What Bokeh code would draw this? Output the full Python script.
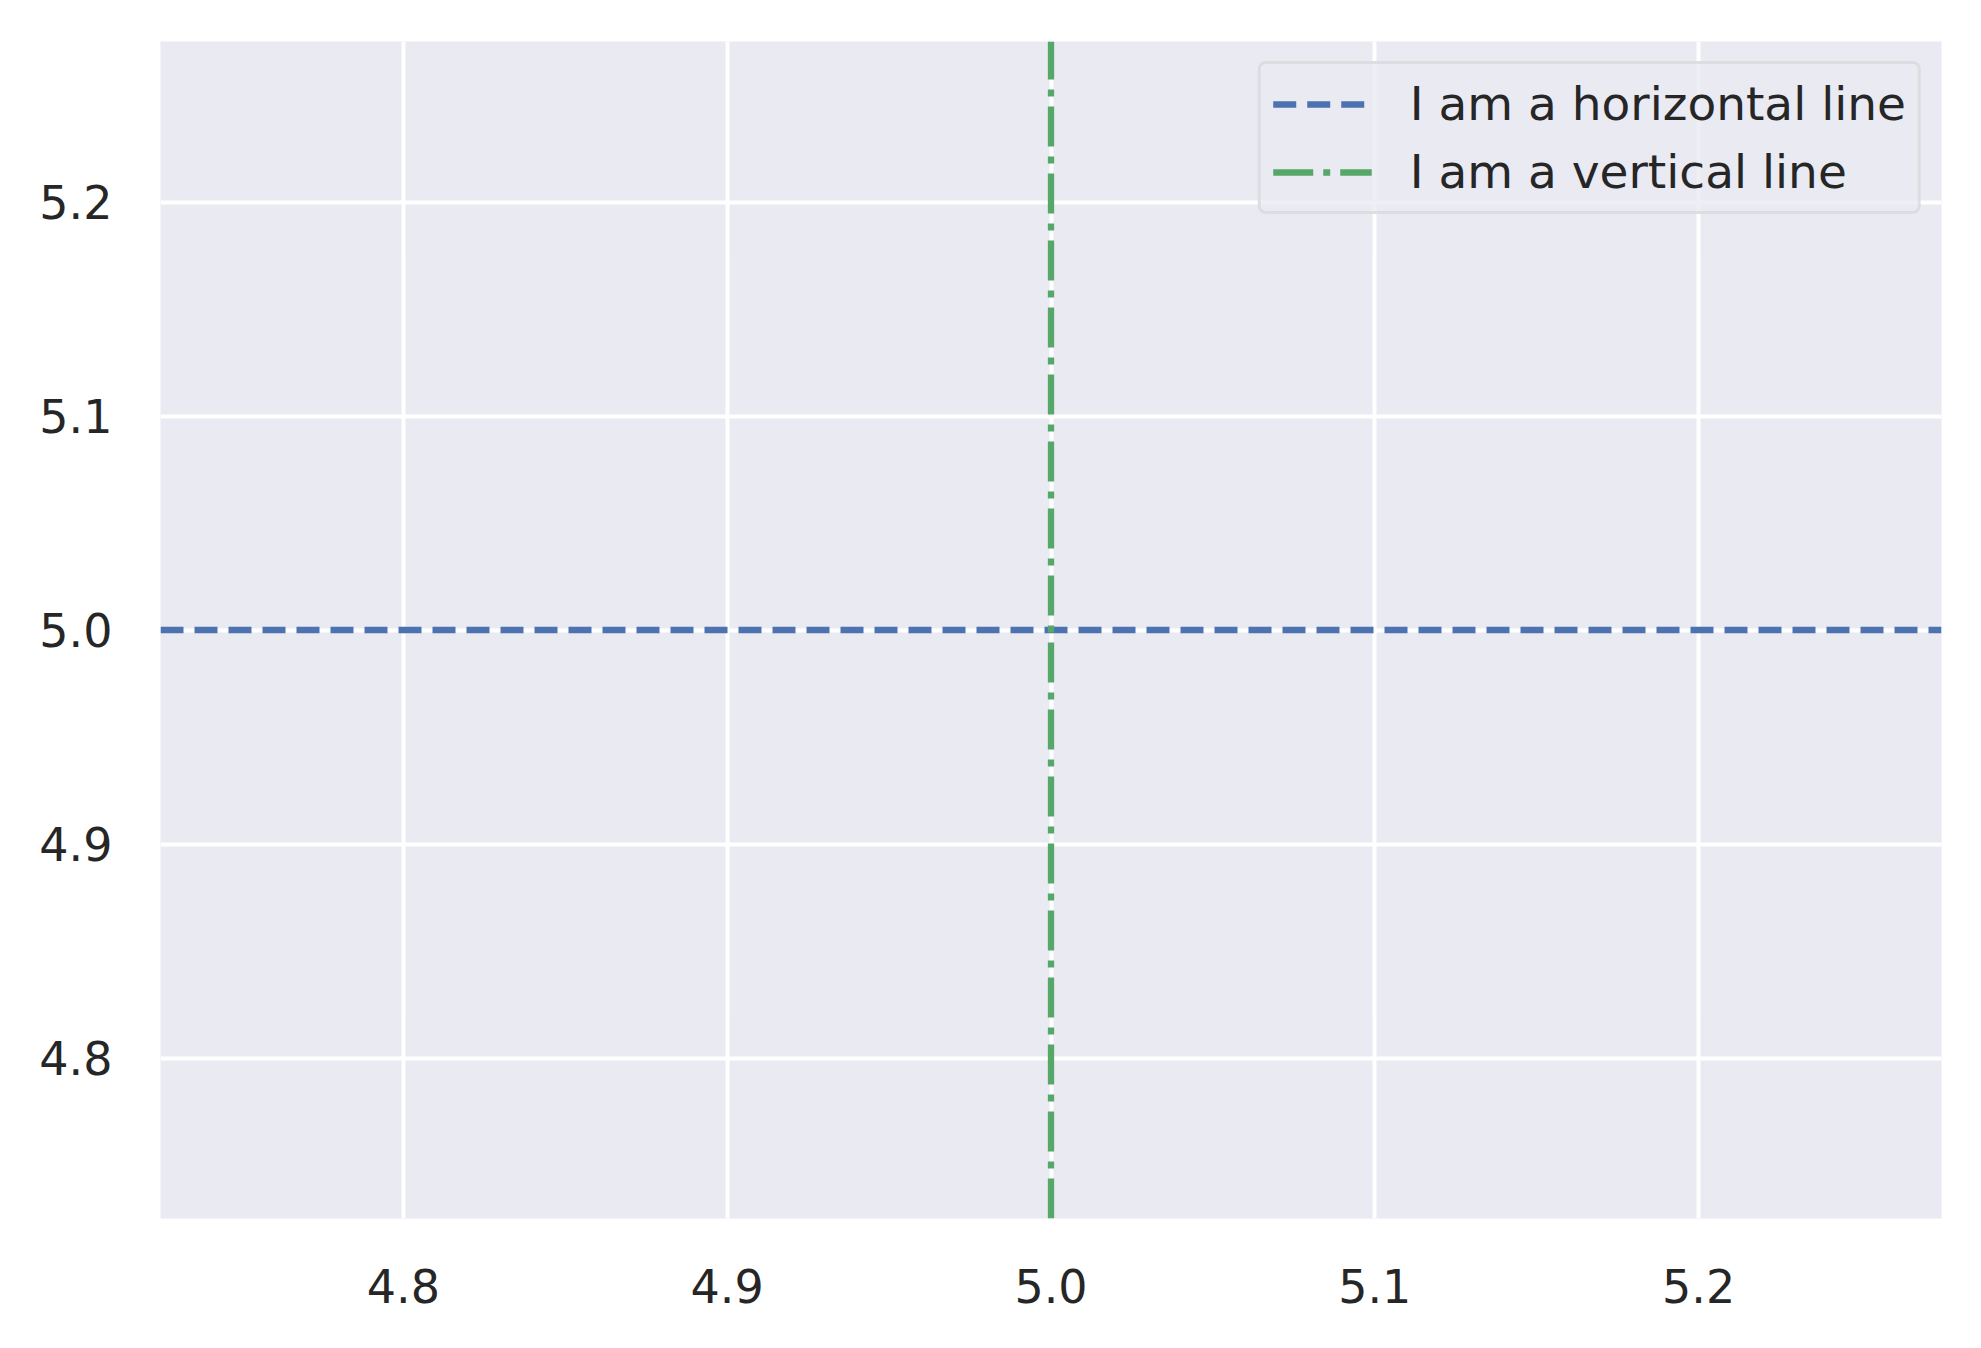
from bokeh.plotting import figure
from bokeh.models import FixedTicker, Range1d, Legend, LegendItem, NumeralTickFormatter
from bokeh.embed import file_html
from bokeh.resources import INLINE

# data
hline_y = 5.0
vline_x = 5.0
axis_min = 4.725
axis_max = 5.275
x_ticks = [4.8, 4.9, 5.0, 5.1, 5.2]
y_ticks = [4.8, 4.9, 5.0, 5.1, 5.2]
labels = ["I am a horizontal line", "I am a vertical line"]

FONT = "DejaVu Sans"
TXT = "#262626"

p = figure(
    frame_width=1781, frame_height=1177,
    x_range=Range1d(axis_min, axis_max), y_range=Range1d(axis_min, axis_max),
    output_backend="svg", toolbar_location=None,
    min_border_left=160, min_border_top=41, min_border_right=24, min_border_bottom=100,
    background_fill_color="#EAEAF2", border_fill_color="white",
)
p.outline_line_color = None

r_h = p.line(x=[axis_min, axis_max], y=[hline_y, hline_y], line_color="#4C72B0",
             line_width=6.3, line_dash="23 11")
r_v = p.line(x=[vline_x, vline_x], y=[axis_min, axis_max], line_color="#55A868",
             line_width=6.3, line_dash="40 10 7 10")

for ax, ticks in ((p.xaxis[0], x_ticks), (p.yaxis[0], y_ticks)):
    ax.ticker = FixedTicker(ticks=ticks)
    ax.formatter = NumeralTickFormatter(format="0.0")
    ax.axis_line_color = None
    ax.major_tick_line_color = None
    ax.minor_tick_line_color = None
    ax.major_tick_out = 0
    ax.major_tick_in = 0
    ax.major_label_text_font = FONT
    ax.major_label_text_font_size = "46px"
    ax.major_label_text_color = TXT
p.xaxis[0].major_label_standoff = 50
p.yaxis[0].major_label_standoff = 48

p.xgrid.grid_line_color = "white"
p.ygrid.grid_line_color = "white"
p.xgrid.grid_line_width = 4
p.ygrid.grid_line_width = 4

legend = Legend(
    items=[LegendItem(label=labels[0], renderers=[r_h]),
           LegendItem(label=labels[1], renderers=[r_v])],
    location="top_right",
    margin=20,
    padding=12,
    spacing=13,
    glyph_width=99,
    glyph_height=46,
    label_height=46,
    label_standoff=38,
    label_text_font=FONT,
    label_text_font_size="47px",
    label_text_color=TXT,
    background_fill_color="#EAEAF2",
    background_fill_alpha=0.8,
    border_line_color="#D0D0D0",
    border_line_width=3,
)
if "border_radius" in Legend.properties():
    legend.border_radius = 8
p.add_layout(legend)

open("out.html", "w").write(file_html(p, INLINE))
